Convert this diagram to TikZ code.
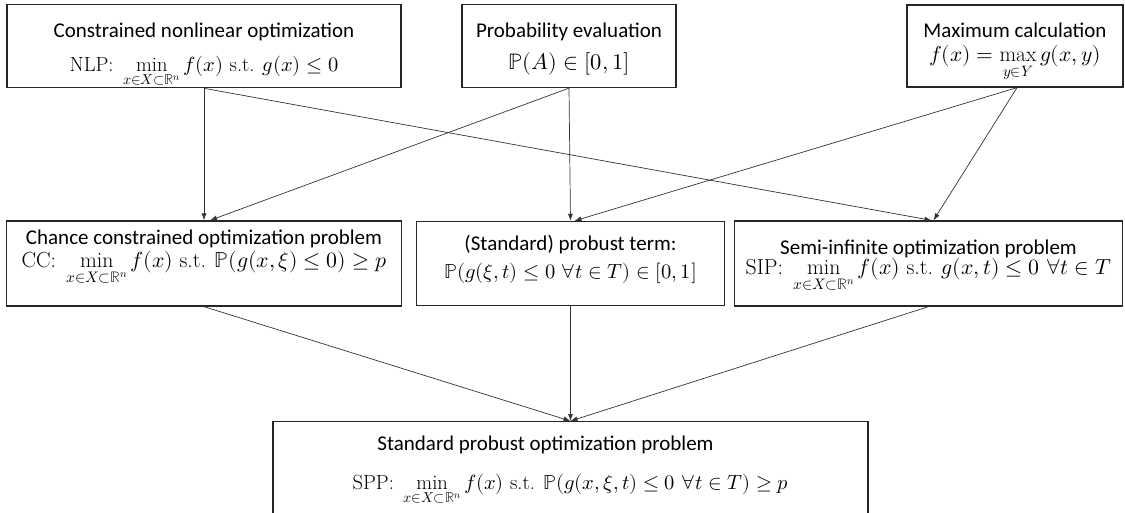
\documentclass[tikz,border=0pt]{standalone}
\usepackage{amsmath}
\usepackage{unicode-math}
\setmathfont{Latin Modern Math}
\usetikzlibrary{positioning, arrows.meta}
\newfontfamily\hdfont{Carlito}
% heading line with a strut (#1 = space above the baseline)
\newcommand{\hd}[2]{\rule{0pt}{#1}{\hdfont\fontsize{21}{25}\selectfont #2}}
% formula line (#1 = size, #2 = space below the baseline)
\newcommand{\eq}[3][20.5]{{\fontsize{#1}{25}\selectfont$#3$}\rule[-#2]{0pt}{0pt}}

\begin{document}
\begin{tikzpicture}[x=1pt,y=1pt,on grid,
    box/.style={draw=black!85,line width=1.3pt,align=center,inner sep=0pt,
      font=\fontsize{17}{25}\selectfont},
    link/.style={->,draw=black!80,line width=0.7pt},
    >={Latex[length=7pt,width=5pt]}]
  \useasboundingbox (0,0) rectangle (1125,-513);
  % top row
  \node[box,minimum width=394,minimum height=82] (nlp) at (204,-46)
    {\hd{33pt}{Constrained nonlinear optimization}\\[9pt]
     \eq{15pt}{\text{NLP:}\ \min\limits_{x\in X\subset\mathbb{R}^n} f(x) \text{ s.t. } g(x)\le 0}};
  \node[box,minimum width=214,minimum height=83] (prob) [right=365 of nlp]
    {\hd{33pt}{Probability evaluation}\\[7pt]
     \eq[22.5]{18pt}{\mathbb{P}(A)\in[0,1]}};
  \node[box,minimum width=216,minimum height=82] (max) [right=446 of prob]
    {\hd{33pt}{Maximum calculation}\\[-1pt]
     \eq[21.5]{25pt}{f(x)=\max\limits_{y\in Y} g(x,y)}};
  % middle row
  \node[box,minimum width=395,minimum height=85] (cc) [below=217.5 of nlp]
    {\hd{24pt}{Chance constrained optimization problem}\\[-2pt]
     \eq[21.8]{38pt}{\text{CC:}\ \min\limits_{x\in X\subset\mathbb{R}^n} f(x) \text{ s.t. } \mathbb{P}(g(x,\xi)\le 0)\ge p}};
  \node[box,minimum width=308,minimum height=84] (term) [right=366.5 of cc]
    {\hd{29pt}{(Standard) probust term:}\\[3pt]
     \eq{27pt}{\mathbb{P}(g(\xi,t)\le 0\ \forall t\in T)\in[0,1]}};
  \node[box,minimum width=388,minimum height=85] (sip) [right=358 of term]
    {\hd{34pt}{Semi-infinite optimization problem}\\[-5pt]
     \eq[21.8]{31pt}{\text{SIP:}\ \min\limits_{x\in X\subset\mathbb{R}^n} f(x) \text{ s.t. } g(x,t)\le 0\ \forall t\in T}};
  % bottom
  \node[box,minimum width=595,minimum height=120,anchor=north] (spp) at (570.5,-421)
    {\hd{29pt}{Standard probust optimization problem}\hspace*{50pt}\\[14pt]
     \eq{52pt}{\text{SPP:}\ \min\limits_{x\in X\subset\mathbb{R}^n} f(x) \text{ s.t. } \mathbb{P}(g(x,\xi,t)\le 0\ \forall t\in T)\ge p}};

  \path (nlp.south) edge[link] (cc.north)
                    edge[link] ([xshift=3]sip.north)
        (prob.south) edge[link] ([xshift=6]cc.north)
                     edge[link] (term.north)
        ([xshift=2]max.south) edge[link] ([xshift=4]term.north)
                              edge[link] ([xshift=5]sip.north)
        (cc.south) edge[link] (spp.north)
        (term.south) edge[link] (spp.north)
        (sip.south) edge[link] (spp.north);
\end{tikzpicture}
\end{document}
